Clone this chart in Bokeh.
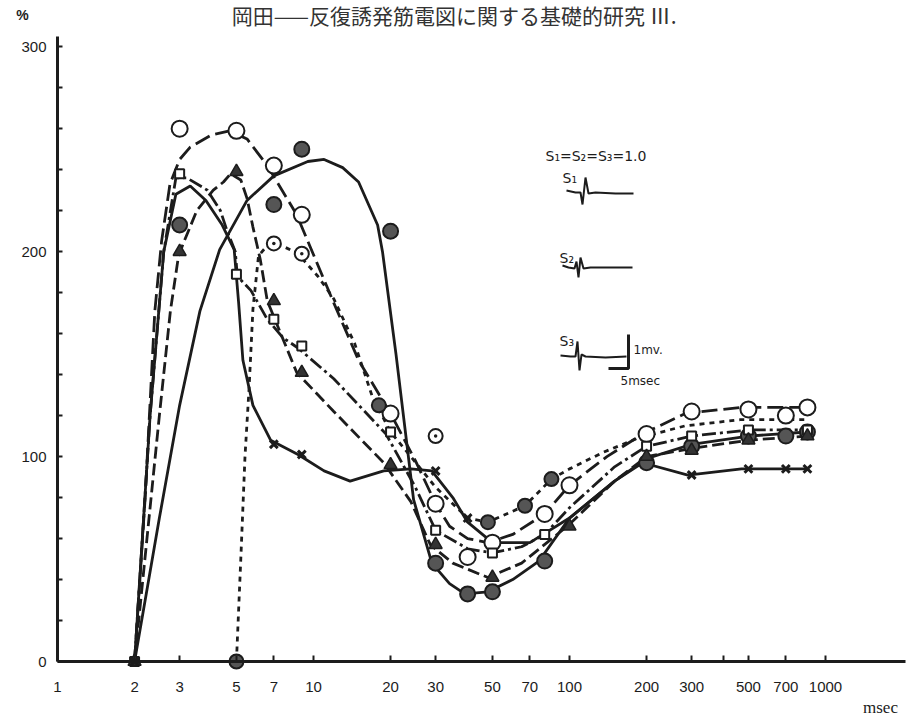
from bokeh.plotting import figure
from bokeh.models import FixedTicker, Range1d, Label, LinearScale
from bokeh.embed import file_html
from bokeh.resources import INLINE

# ---------------- data ----------------
x_ticks = [1, 2, 3, 5, 7, 10, 20, 30, 50, 70, 100, 200, 300, 400, 500, 700, 1000]
x_tick_labels = ["1", "2", "3", "5", "7", "10", "20", "30", "50", "70", "100",
                 "200", "300", "", "500", "700", "1000"]
y_ticks = [0, 100, 200, 300]
y_minor = [20, 40, 60, 80, 120, 140, 160, 180, 220, 240, 260, 280]

# series 1: open circles (long dashed curve)
oc_x = [3, 5, 7, 9, 20, 30, 40, 50, 80, 100, 200, 300, 500, 700, 850]
oc_y = [260, 259, 242, 218, 121, 77, 51, 58, 72, 86, 111, 122, 123, 120, 124]
c1_x = [2, 2.2, 2.4, 2.55, 2.75, 3.0, 3.3, 4.0, 4.7, 5.5, 6.6, 8.6, 12, 15, 20, 25, 30,
        34, 40, 48, 60, 80, 100, 140, 193, 283, 465, 850]
c1_y = [0, 80, 171, 205, 233, 245, 251, 257, 259, 255, 242, 218, 175, 147, 121, 98, 77,
        66, 60, 58, 62, 72, 86, 100, 111, 121, 124, 124]

# series 2: filled circles (solid curve)
fc_x = [3, 7, 9, 20, 30, 40, 50, 80, 200, 300, 500, 700, 850]
fc_y = [213, 223, 250, 210, 48, 33, 34, 49, 97, 105, 110, 110, 112]
c2_x = [2, 2.5, 3.0, 3.6, 4.3, 5.5, 7, 9.5, 11, 13, 15, 17.8, 18.6, 21, 24.6, 29, 34, 39,
        48, 60, 76, 100, 150, 200, 300, 500, 850]
c2_y = [0, 70, 125, 171, 201, 225, 237, 244, 245, 241, 234, 213, 200, 150, 79, 48, 38, 33,
        34, 40, 49, 70, 88, 99, 106, 110, 112]

# series 3: open squares (dash-dot curve)
sq_x = [2, 3, 5, 7, 9, 20, 30, 50, 80, 200, 300, 500, 850]
sq_y = [0, 238, 189, 167, 154, 112, 64, 53, 62, 105, 110, 113, 113]
c3_x = [2, 2.3, 2.6, 2.9, 3.2, 3.85, 4.33, 4.6, 4.95, 5.04, 5.7, 6.6, 7.6, 8.7, 12, 19.2,
        25, 30, 40, 50, 65, 80, 100, 150, 200, 300, 500, 850]
c3_y = [0, 120, 200, 236, 236, 230, 220, 210, 200, 188, 181, 167, 158, 153, 138, 111,
        85, 64, 55, 53, 56, 62, 75, 95, 105, 110, 113, 113]

# series 4: filled triangles (dashed curve)
tr_x = [2, 3, 5, 7, 9, 20, 30, 50, 100, 200, 300, 500, 850]
tr_y = [0, 200, 239, 176, 141, 96, 57, 41, 66, 100, 103, 108, 110]
c4_x = [2, 2.5, 2.76, 2.97, 3.1, 3.5, 4.06, 4.45, 4.74, 5.2, 5.5, 5.8, 6.2, 6.6, 8.6, 12,
        18.8, 24, 28.6, 35, 48, 65, 98, 150, 200, 300, 500, 850]
c4_y = [0, 120, 171, 198, 204, 220, 230, 234, 238, 235, 226, 212, 196, 176, 141, 122,
        97, 78, 57, 48, 41, 48, 66, 88, 100, 104, 108, 110]

# series 5: crosses (solid curve)
cr_x = [2, 7, 9, 30, 40, 300, 500, 700, 850]
cr_y = [0, 106, 101, 93, 70, 91, 94, 94, 94]
c5_x = [2, 2.3, 2.6, 2.9, 3.3, 3.8, 4.4, 4.9, 5.1, 5.3, 5.8, 6.8, 8.7, 11, 13.9, 18.8,
        24, 29, 35, 40, 50, 70, 100, 150, 193, 290, 470, 665, 860]
c5_y = [0, 120, 200, 228, 232, 225, 213, 201, 175, 147, 125, 108, 101, 93, 88, 93,
        94, 93, 80, 68, 58, 58, 70, 88, 97, 91, 94, 94, 94]

# series 6: dotted circles / filled circles (dotted + short dashed curve)
dc_x = [7, 9, 30]
dc_y = [204, 199, 110]
f6_x = [5, 18, 48, 67, 85]
f6_y = [0, 125, 68, 76, 89]
c6_x = [5, 5.2, 5.4, 5.6, 5.8, 6.1, 6.7, 7.5, 8.7, 10.4, 12, 14.5, 17, 20, 24, 30, 40,
        48, 67, 85, 100, 135, 185, 283, 465, 850]
c6_y = [0, 50, 100, 133, 172, 198, 204, 203, 199, 188, 177, 155, 129, 112, 100, 85, 70,
        68, 76, 89, 94, 102, 109, 115, 118, 118]

# inset traces (pixel coordinates of the schematic drawings)
s1_tx = [566, 575, 580, 582, 585, 588, 595, 615, 633]
s1_ty = [190, 192, 192, 204, 177, 193, 192, 193, 193]
s2_tx = [562, 568, 574, 576, 578, 580, 583, 590, 632]
s2_ty = [265, 267, 268, 261, 277, 257, 268, 267, 267]
s3_tx = [560, 570, 575, 577, 579, 581, 585, 605, 626]
s3_ty = [355, 356, 356, 341, 370, 354, 356, 357, 356]
bar_x = [608, 628, 628]
bar_y = [368, 368, 334]

INK = "#1c1c1c"

# frame covers the whole canvas; axes are pinned at x=1 and y=0
PX_PER_DEC = 256.0
X0_PX = 57.0
Y0_PX = 661.0
PX_PER_UNIT = 625.0 / 305.0
W, H = 910, 717
x_lo = 10 ** ((0 - X0_PX) / PX_PER_DEC)
x_hi = 10 ** ((W - X0_PX) / PX_PER_DEC)
y_lo = -(H - Y0_PX) / PX_PER_UNIT
y_hi = Y0_PX / PX_PER_UNIT

p = figure(width=W, height=H, x_axis_type="log",
           x_range=Range1d(x_lo, x_hi), y_range=Range1d(y_lo, y_hi),
           output_backend="svg", toolbar_location=None,
           min_border_left=0, min_border_right=0, min_border_top=0, min_border_bottom=0)
p.extra_x_ranges = {"px": Range1d(0, W)}
p.extra_x_scales = {"px": LinearScale()}
p.extra_y_ranges = {"px": Range1d(H, 0)}
p.extra_y_scales = {"px": LinearScale()}

p.xgrid.visible = False
p.ygrid.visible = False
p.outline_line_color = None
p.background_fill_color = "white"
p.border_fill_color = "white"

# x axis
xa = p.xaxis[0]
xa.fixed_location = 0
xa.bounds = (1, 10 ** ((905 - X0_PX) / PX_PER_DEC))
xa.ticker = FixedTicker(ticks=x_ticks)
xa.major_label_overrides = {t: l for t, l in zip(x_ticks, x_tick_labels)}
xa.axis_line_width = 3
xa.axis_line_color = INK
xa.major_tick_in = 6
xa.major_tick_out = 0
xa.major_tick_line_width = 2
xa.major_tick_line_color = INK
xa.minor_tick_line_color = None
xa.major_label_standoff = 20
xa.major_label_text_font = "Liberation Sans"
xa.major_label_text_font_size = "15px"
xa.major_label_text_color = INK

# y axis
ya = p.yaxis[0]
ya.fixed_location = 1
ya.bounds = (0, 305)
ya.ticker = FixedTicker(ticks=y_ticks, minor_ticks=y_minor)
ya.axis_line_width = 3
ya.axis_line_color = INK
ya.major_tick_in = 5
ya.major_tick_out = 0
ya.minor_tick_in = 5
ya.minor_tick_out = 0
ya.major_tick_line_width = 2
ya.minor_tick_line_width = 2
ya.major_tick_line_color = INK
ya.minor_tick_line_color = INK
ya.major_label_standoff = 11
ya.major_label_text_font = "Liberation Sans"
ya.major_label_text_font_size = "15px"
ya.major_label_text_color = INK

LW = 2.8
p.line(c1_x, c1_y, line_color=INK, line_width=LW, line_dash="16 6")
p.line(c2_x, c2_y, line_color=INK, line_width=LW)
p.line(c3_x, c3_y, line_color=INK, line_width=LW, line_dash="14 4 3 4")
p.line(c4_x, c4_y, line_color=INK, line_width=LW, line_dash="12 5")
p.line(c5_x, c5_y, line_color=INK, line_width=LW)
p.line(c6_x, c6_y, line_color=INK, line_width=LW, line_dash="5 5")

p.scatter(oc_x, oc_y, marker="circle", size=16, fill_color="white", line_color=INK, line_width=2)
p.scatter(fc_x, fc_y, marker="circle", size=15, fill_color="#555555", line_color=INK, line_width=2)
p.scatter(sq_x, sq_y, marker="square", size=9, fill_color="white", line_color=INK, line_width=2)
p.scatter(tr_x, tr_y, marker="triangle", size=13, fill_color="#333333", line_color=INK, line_width=1.5)
p.scatter(cr_x, cr_y, marker="x", size=11, line_color=INK, line_width=3)
p.scatter(dc_x, dc_y, marker="circle_dot", size=14, fill_color="white", line_color=INK, line_width=2)
p.scatter(f6_x, f6_y, marker="circle", size=14, fill_color="#555555", line_color=INK, line_width=2)

# inset traces
for tx, ty in ((s1_tx, s1_ty), (s2_tx, s2_ty), (s3_tx, s3_ty)):
    p.line(tx, ty, x_range_name="px", y_range_name="px", line_color=INK, line_width=2)
p.line(bar_x, bar_y, x_range_name="px", y_range_name="px", line_color=INK, line_width=3)


def lab(x, y, text, size="15px", font="Liberation Sans", align="center", style="normal",
        color=INK):
    p.add_layout(Label(x=x, y=y, x_range_name="px", y_range_name="px", text=text,
                       text_font=font, text_font_size=size, text_color=color,
                       text_align=align, text_baseline="middle", text_font_style=style))


lab(456, 14, "岡田——反復誘発筋電図に関する基礎的研究  Ⅲ.", size="21px",
    font="Noto Sans CJK JP", color="#333333")
lab(22, 14, "%", size="14px", style="bold")
lab(880, 707, "msec", size="17px", font="Liberation Serif")
lab(545, 155, "S₁=S₂=S₃=1.0", size="14px", font="DejaVu Sans", align="left")
lab(562, 177, "S₁", size="14px", font="DejaVu Sans", align="left")
lab(559, 257, "S₂", size="14px", font="DejaVu Sans", align="left")
lab(559, 340, "S₃", size="14px", font="DejaVu Sans", align="left")
lab(633, 349, "1mv.", size="12px", font="DejaVu Sans", align="left")
lab(620, 380, "5msec", size="12px", font="DejaVu Sans", align="left")

open("out.html", "w").write(file_html(p, INLINE))
